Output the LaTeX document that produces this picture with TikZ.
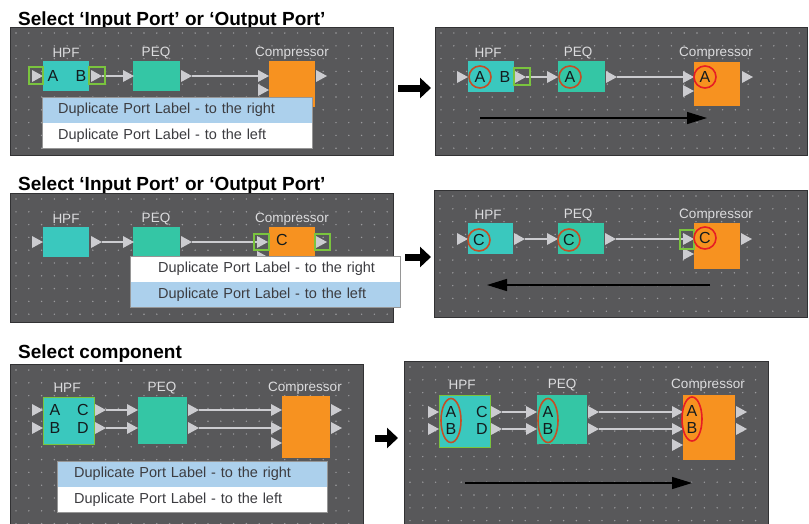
\documentclass[tikz,border=0pt]{standalone}
\usepackage{fontspec}
\setmainfont{Liberation Sans}
\usetikzlibrary{arrows.meta,shapes.geometric}

\definecolor{panelgray}{RGB}{88,88,90}
\definecolor{paneledge}{RGB}{50,50,52}
\definecolor{griddot}{RGB}{155,155,158}
\definecolor{tealfill}{RGB}{52,198,165}
\definecolor{cyanfill}{RGB}{58,200,190}
\definecolor{orangefill}{RGB}{247,146,32}
\definecolor{selgreen}{RGB}{122,196,62}
\definecolor{portgray}{RGB}{204,204,208}
\definecolor{namegray}{RGB}{220,220,222}
\definecolor{menublue}{RGB}{172,208,236}
\definecolor{menuedge}{RGB}{150,150,150}
\definecolor{menutext}{RGB}{60,60,64}
\definecolor{letterink}{RGB}{20,28,30}
\definecolor{ringbrown}{RGB}{196,78,38}
\definecolor{ringred}{RGB}{230,30,36}

\tikzset{
  panelbox/.style={draw=paneledge, line width=1pt, fill=panelgray, anchor=north west, inner sep=0pt},
  blockbox/.style={anchor=north west, inner sep=0pt},
  selblock/.style={blockbox, draw=selgreen, line width=1.3pt},
  selbox/.style={draw=selgreen, line width=1.5pt, inner sep=0pt},
  blkname/.style={text=namegray, font=\fontsize{13.5}{15}\selectfont, inner sep=0pt},
  portname/.style={text=letterink, font=\fontsize{16}{17}\selectfont, inner sep=0pt},
  ring/.style={portname, circle, draw=ringbrown, line width=1.6pt, minimum size=22pt},
  redring/.style={ring, draw=ringred},
  tallring/.style={portname, ellipse, draw=ringbrown, line width=1.6pt, minimum width=20pt, minimum height=44pt, align=center},
  headline/.style={anchor=base west, inner sep=0pt, font=\fontsize{19}{21}\selectfont\bfseries},
  menurow/.style={anchor=north west, inner xsep=0pt, inner ysep=0pt, text width=270pt, minimum height=25.5pt, align=left, text=menutext, font=\fontsize{14.5}{16}\selectfont},
  menuframe/.style={draw=menuedge, line width=0.8pt},
  wire/.style={draw=portgray, line width=1.6pt},
  flowarrow/.style={line width=1.4pt, -{Triangle[length=20pt,width=12pt]}},
  bigarrow/.style={line width=7pt, -{Triangle[length=11pt,width=20pt]}},
  pics/porttri/.style={code={
    \fill[portgray] (-5,-6) -- (6,0) -- (-5,6) -- cycle;
    \coordinate (-tip) at (6,0);
    \coordinate (-base) at (-5,0);
  }}
}

\begin{document}
\begin{tikzpicture}[x=1pt,y=-1pt]
\useasboundingbox (0,0) rectangle (809,523);

% titles
\node[headline] (tA) at (18,25) {Select ‘Input Port’ or ‘Output Port’};
\node[headline] (tC) at (18,190) {Select ‘Input Port’ or ‘Output Port’};
\node[headline] (tE) at (18,358) {Select component};

% panels
\node[panelbox, minimum width=383pt, minimum height=128pt] (pnA) at (10,27) {};
\node[panelbox, minimum width=372pt, minimum height=128pt] (pnB) at (435,27) {};
\node[panelbox, minimum width=383pt, minimum height=129pt] (pnC) at (10,193) {};
\node[panelbox, minimum width=373pt, minimum height=127pt] (pnD) at (434,190) {};
\node[panelbox, minimum width=353pt, minimum height=170pt] (pnE) at (10,364) {};
\node[panelbox, minimum width=364pt, minimum height=170pt] (pnF) at (404,361) {};

% grid dots
\foreach \px/\py/\ni/\nj in {16/33/29/9, 441/33/28/9, 16/199/29/9, 440/196/28/9, 16/370/26/12, 410/367/27/12}
  \foreach \i in {0,...,\ni}
    \foreach \j in {0,...,\nj}
      \fill[griddot] ({\px+12.8*\i},{\py+12.8*\j}) circle (0.8);

% ---- panel A
\node[blkname] (nA1) at (66,53) {HPF};
\node[blkname] (nA2) at (156,53) {PEQ};
\node[blkname] (nA3) at (292,53) {Compressor};
\node[blockbox, fill=cyanfill, minimum width=46pt, minimum height=30pt] (bA1) at (43,61) {};
\node[blockbox, fill=tealfill, minimum width=47pt, minimum height=30pt] (bA2) at (133,61) {};
\node[blockbox, fill=orangefill, minimum width=46pt, minimum height=46pt] (bA3) at (269,61) {};
\pic (pA1) at (37,76) {porttri};
\pic (pA2) at (96,76) {porttri};
\pic (pA3) at (128,76) {porttri};
\pic (pA4) at (186,76) {porttri};
\pic (pA5) at (263,76) {porttri};
\pic (pA6) at (263,90) {porttri};
\pic (pA7) at (321,76) {porttri};
\draw[wire] (pA2-tip) -- (pA3-base);
\draw[wire] (pA4-tip) -- (pA5-base);
\node[selbox, minimum width=14pt, minimum height=17pt] (sA1) at (36,75.5) {};
\node[selbox, minimum width=16pt, minimum height=17pt] (sA2) at (97,75.5) {};
\node[portname] (lA1) at (53,76) {A};
\node[portname] (lA2) at (81,76) {B};
\node[menurow, fill=menublue] (mA1) at (42,97) {\hspace*{16pt}Duplicate Port Label - to the right};
\node[menurow, fill=white] (mA2) at (mA1.south west) {\hspace*{16pt}Duplicate Port Label - to the left};
\draw[menuframe] (mA1.north west) rectangle (mA2.south east);

% ---- panel B
\node[blkname] (nB1) at (488,53) {HPF};
\node[blkname] (nB2) at (578,53) {PEQ};
\node[blkname] (nB3) at (716,53) {Compressor};
\node[blockbox, fill=cyanfill, minimum width=46pt, minimum height=31pt] (bB1) at (468,61) {};
\node[blockbox, fill=tealfill, minimum width=47pt, minimum height=31pt] (bB2) at (558,61) {};
\node[blockbox, fill=orangefill, minimum width=46pt, minimum height=44pt] (bB3) at (694,62) {};
\pic (pB1) at (462,77) {porttri};
\pic (pB2) at (520,77) {porttri};
\pic (pB3) at (552,77) {porttri};
\pic (pB4) at (611,77) {porttri};
\pic (pB5) at (688,77) {porttri};
\pic (pB6) at (688,91) {porttri};
\pic (pB7) at (747,77) {porttri};
\draw[wire] (pB2-tip) -- (pB3-base);
\draw[wire] (pB4-tip) -- (pB5-base);
\node[selbox, minimum width=16pt, minimum height=17pt] (sB1) at (522,76.5) {};
\node[ring] (lB1) at (480,77) {A};
\node[portname] (lB2) at (505,77) {B};
\node[ring] (lB3) at (570,77) {A};
\node[redring] (lB4) at (705,77) {A};
\coordinate (aB1) at (480,118);
\coordinate (aB2) at (707,118);
\draw[flowarrow] (aB1) -- (aB2);

% ---- panel C
\node[blkname] (nC1) at (66,219) {HPF};
\node[blkname] (nC2) at (156,219) {PEQ};
\node[blkname] (nC3) at (292,219) {Compressor};
\node[blockbox, fill=cyanfill, minimum width=46pt, minimum height=30pt] (bC1) at (43,227) {};
\node[blockbox, fill=tealfill, minimum width=47pt, minimum height=30pt] (bC2) at (133,227) {};
\node[blockbox, fill=orangefill, minimum width=46pt, minimum height=46pt] (bC3) at (269,227) {};
\pic (pC1) at (37,242) {porttri};
\pic (pC2) at (96,242) {porttri};
\pic (pC3) at (128,242) {porttri};
\pic (pC4) at (186,242) {porttri};
\pic (pC5) at (262,242) {porttri};
\pic (pC6) at (262,257) {porttri};
\pic (pC7) at (321,242) {porttri};
\draw[wire] (pC2-tip) -- (pC3-base);
\draw[wire] (pC4-tip) -- (pC5-base);
\node[selbox, minimum width=15pt, minimum height=16pt] (sC1) at (261.5,242) {};
\node[selbox, minimum width=15pt, minimum height=16pt] (sC2) at (322.5,242) {};
\node[portname] (lC1) at (282,240) {C};
\node[menurow, fill=white] (mC1) at (130,256) {\hspace*{28pt}Duplicate Port Label - to the right};
\node[menurow, fill=menublue] (mC2) at (mC1.south west) {\hspace*{28pt}Duplicate Port Label - to the left};
\draw[menuframe] (mC1.north west) rectangle (mC2.south east);

% ---- panel D
\node[blkname] (nD1) at (488,215) {HPF};
\node[blkname] (nD2) at (578,215) {PEQ};
\node[blkname] (nD3) at (716,215) {Compressor};
\node[blockbox, fill=cyanfill, minimum width=45pt, minimum height=31pt] (bD1) at (468,223) {};
\node[blockbox, fill=tealfill, minimum width=46pt, minimum height=31pt] (bD2) at (558,223) {};
\node[blockbox, fill=orangefill, minimum width=46pt, minimum height=46pt] (bD3) at (694,223) {};
\pic (pD1) at (462,239) {porttri};
\pic (pD2) at (519,239) {porttri};
\pic (pD3) at (552,239) {porttri};
\pic (pD4) at (610,239) {porttri};
\pic (pD5) at (688,239) {porttri};
\pic (pD6) at (688,254) {porttri};
\pic (pD7) at (746,239) {porttri};
\draw[wire] (pD2-tip) -- (pD3-base);
\draw[wire] (pD4-tip) -- (pD5-base);
\node[selbox, minimum width=14pt, minimum height=19pt] (sD1) at (687,239.5) {};
\node[ring] (lD1) at (479,240) {C};
\node[ring] (lD2) at (569,240) {C};
\node[redring] (lD3) at (705,238) {C};
\coordinate (aD1) at (710,285);
\coordinate (aD2) at (487,285);
\draw[flowarrow] (aD1) -- (aD2);

% ---- panel E
\node[blkname] (nE1) at (67,388) {HPF};
\node[blkname] (nE2) at (162,388) {PEQ};
\node[blkname] (nE3) at (305,388) {Compressor};
\node[selblock, fill=cyanfill, minimum width=51pt, minimum height=47pt] (bE1) at (43,397) {};
\node[blockbox, fill=tealfill, minimum width=49pt, minimum height=47pt] (bE2) at (138,397) {};
\node[blockbox, fill=orangefill, minimum width=48pt, minimum height=62pt] (bE3) at (282,396) {};
\foreach \py in {410,428} {
  \pic (pE1\py) at (37,\py) {porttri};
  \pic (pE2\py) at (100,\py) {porttri};
  \pic (pE3\py) at (132,\py) {porttri};
  \pic (pE4\py) at (193,\py) {porttri};
  \pic (pE5\py) at (276,\py) {porttri};
  \pic (pE7\py) at (336,\py) {porttri};
  \draw[wire] (pE2\py-tip) -- (pE3\py-base);
  \draw[wire] (pE4\py-tip) -- (pE5\py-base);
}
\pic (pE6) at (276,443) {porttri};
\node[portname] (lE1) at (55,410) {A};
\node[portname] (lE2) at (55,428) {B};
\node[portname] (lE3) at (83,410) {C};
\node[portname] (lE4) at (83,428) {D};
\node[menurow, fill=menublue] (mE1) at (57,461) {\hspace*{17pt}Duplicate Port Label - to the right};
\node[menurow, fill=white] (mE2) at (mE1.south west) {\hspace*{17pt}Duplicate Port Label - to the left};
\draw[menuframe] (mE1.north west) rectangle (mE2.south east);

% ---- panel F
\node[blkname] (nF1) at (462,385) {HPF};
\node[blkname] (nF2) at (562,385) {PEQ};
\node[blkname] (nF3) at (708,385) {Compressor};
\node[selblock, fill=cyanfill, minimum width=51pt, minimum height=52pt] (bF1) at (439,395) {};
\node[blockbox, fill=tealfill, minimum width=50pt, minimum height=49pt] (bF2) at (537,395) {};
\node[blockbox, fill=orangefill, minimum width=52pt, minimum height=65pt] (bF3) at (683,395) {};
\foreach \py in {412,429} {
  \pic (pF1\py) at (433,\py) {porttri};
  \pic (pF2\py) at (496,\py) {porttri};
  \pic (pF3\py) at (531,\py) {porttri};
  \pic (pF4\py) at (593,\py) {porttri};
  \pic (pF5\py) at (677,\py) {porttri};
  \pic (pF7\py) at (741,\py) {porttri};
  \draw[wire] (pF2\py-tip) -- (pF3\py-base);
  \draw[wire] (pF4\py-tip) -- (pF5\py-base);
}
\pic (pF6) at (677,445) {porttri};
\node[tallring] (lF1) at (451,420.5) {A\\B};
\node[portname] (lF3) at (482,412) {C};
\node[portname] (lF4) at (482,429) {D};
\node[tallring] (lF2) at (548,420.5) {A\\B};
\node[tallring, draw=ringred] (lF5) at (692,419) {A\\B};
\coordinate (aF1) at (465,483);
\coordinate (aF2) at (692,483);
\draw[flowarrow] (aF1) -- (aF2);

% arrows between panels
\coordinate (gA) at (398,88);
\coordinate (gB) at (431,88);
\coordinate (gC) at (405,257);
\coordinate (gD) at (431,257);
\coordinate (gE) at (375,438);
\coordinate (gF) at (398,438);
\draw[bigarrow] (gA) -- (gB);
\draw[bigarrow] (gC) -- (gD);
\draw[bigarrow] (gE) -- (gF);
\end{tikzpicture}
\end{document}
